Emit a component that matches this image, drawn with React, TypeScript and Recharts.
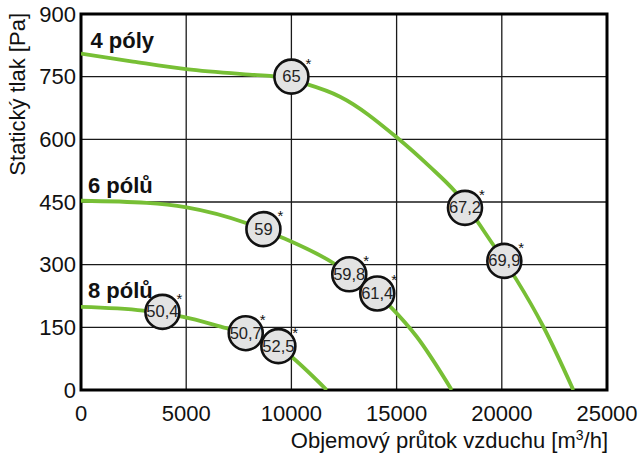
import React from 'react';
import { ComposedChart, Line, Scatter, XAxis, YAxis, CartesianGrid, ReferenceArea } from 'recharts';

const xTicks = [0, 5000, 10000, 15000, 20000, 25000];
const yTicks = [0, 150, 300, 450, 600, 750, 900];

const flow4 = [0, 2470, 5000, 8000, 9110, 10730, 12310, 15000, 16590, 17780, 19600, 20710, 21970, 23400];
const press4 = [805, 786, 768, 755, 751, 732, 702, 605, 534, 475, 347, 263, 152, 0];

const flow6 = [0, 3120, 5020, 7880, 9460, 11990, 14770, 15950, 17620];
const press6 = [453, 448, 437, 399, 367, 304, 196, 128, 0];

const flow8 = [0, 2960, 4860, 6920, 7830, 9380, 10090, 11680];
const press8 = [199, 190, 175, 148, 136, 105, 76, 0];

const markers4 = [
  { x: 10000, y: 750, label: '65' },
  { x: 18250, y: 436, label: '67,2' },
  { x: 20120, y: 309, label: '69,9' },
];
const markers6 = [
  { x: 8670, y: 385, label: '59' },
  { x: 12750, y: 277, label: '59,8' },
  { x: 14080, y: 231, label: '61,4' },
];
const markers8 = [
  { x: 3870, y: 187, label: '50,4' },
  { x: 7830, y: 136, label: '50,7' },
  { x: 9380, y: 105, label: '52,5' },
];

const curveLabels = [
  { x: 450, y: 818, label: '4 póly' },
  { x: 330, y: 472, label: '6 pólů' },
  { x: 330, y: 220, label: '8 pólů' },
];

const zip = (xs: number[], ys: number[]) => xs.map((x, i) => ({ x, y: ys[i] }));
const curve4 = zip(flow4, press4);
const curve6 = zip(flow6, press6);
const curve8 = zip(flow8, press8);
const allMarkers = [...markers4, ...markers6, ...markers8];

const FONT = '"Liberation Sans", Arial, sans-serif';
const GREEN = '#77bf35';

const MarkerShape = (props: any) => {
  const { cx, cy, payload } = props;
  if (cx == null || cy == null) return null;
  return (
    <g>
      <circle cx={cx} cy={cy} r={17} fill="#e3e3e3" stroke="#111" strokeWidth={2.6} />
      <text x={cx} y={cy + 5.5} textAnchor="middle" fontSize={16.5} fontFamily={FONT} fill="#222">
        {payload.label}
      </text>
      <text x={cx + 14} y={cy - 8} fontSize={15} fontFamily={FONT} fill="#111">*</text>
    </g>
  );
};

const CurveLabelShape = (props: any) => {
  const { cx, cy, payload } = props;
  if (cx == null || cy == null) return null;
  return (
    <text x={cx} y={cy} fontSize={22} fontWeight="bold" fontFamily={FONT} fill="#111">
      {payload.label}
    </text>
  );
};

export default function App() {
  return (
    <div style={{ width: 640, height: 454 }}>
      <style>{`body{margin:0;}`}</style>
      <ComposedChart width={640} height={454} margin={{ top: 14, right: 33, bottom: 34, left: 21 }}>
        <CartesianGrid stroke="#1a1a1a" strokeWidth={1.3} horizontalValues={yTicks} verticalValues={xTicks} />
        <XAxis
          type="number"
          dataKey="x"
          domain={[0, 25000]}
          ticks={xTicks}
          allowDataOverflow
          height={30}
          axisLine={false}
          tickLine={false}
          tickSize={0}
          tickMargin={15}
          tick={{ fontSize: 22, fontFamily: FONT, fill: '#111' }}
          interval={0}
          label={{
            content: () => (
              <text x={608} y={448} textAnchor="end" fontSize={22} fontFamily={FONT} fill="#111">
                Objemový průtok vzduchu [m<tspan fontSize={14} dy={-8}>3</tspan>
                <tspan dy={8}>/h]</tspan>
              </text>
            ),
          }}
        />
        <YAxis
          type="number"
          dataKey="y"
          domain={[0, 900]}
          ticks={yTicks}
          allowDataOverflow
          width={60}
          axisLine={false}
          tickLine={false}
          tickSize={0}
          tickMargin={5}
          tick={{ fontSize: 22, fontFamily: FONT, fill: '#111' }}
          interval={0}
          label={{
            content: () => (
              <text x={25} y={13} transform="rotate(-90 25 13)" textAnchor="end" fontSize={22} fontFamily={FONT} fill="#111">
                Statický tlak [Pa]
              </text>
            ),
          }}
        />
        <ReferenceArea x1={0} x2={25000} y1={0} y2={900} fill="none" stroke="#000" strokeWidth={3} ifOverflow="visible" />
        <Line data={curve4} dataKey="y" type="monotone" stroke={GREEN} strokeWidth={3.8} dot={false} isAnimationActive={false} />
        <Line data={curve6} dataKey="y" type="monotone" stroke={GREEN} strokeWidth={3.8} dot={false} isAnimationActive={false} />
        <Line data={curve8} dataKey="y" type="monotone" stroke={GREEN} strokeWidth={3.8} dot={false} isAnimationActive={false} />
        <Scatter data={curveLabels} dataKey="y" shape={CurveLabelShape} isAnimationActive={false} />
        <Scatter data={allMarkers} dataKey="y" shape={MarkerShape} isAnimationActive={false} />
      </ComposedChart>
    </div>
  );
}
